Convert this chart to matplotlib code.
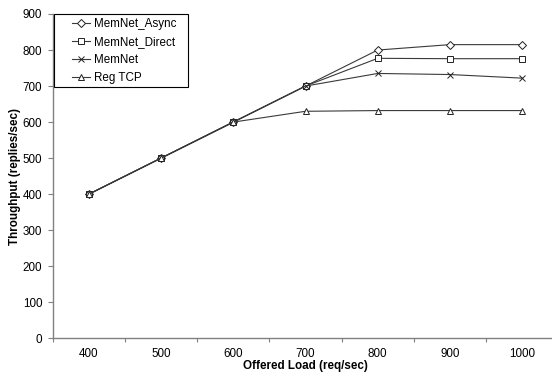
import matplotlib
matplotlib.use('Agg')
import matplotlib.pyplot as plt
from matplotlib.patches import Rectangle
import numpy as np

plt.rcParams['font.family'] = ['Liberation Sans', 'DejaVu Sans']

# Data
loads = ['400', '500', '600', '700', '800', '900', '1000']
memnetAsync = [400, 500, 600, 700, 800, 815, 815]
memnetDirect = [400, 500, 600, 700, 777, 776, 776]
memnet = [400, 500, 600, 700, 735, 732, 722]
regTCP = [400, 500, 600, 630, 632, 632, 632]

series = [
    ('MemNet_Async', memnetAsync, 'D', 4.0),
    ('MemNet_Direct', memnetDirect, 's', 5.0),
    ('MemNet', memnet, 'x', 4.5),
    ('Reg TCP', regTCP, '^', 5.0),
]

fig = plt.figure(figsize=(5.52, 3.73), dpi=100)
ax = fig.add_axes([52.7 / 552, (373 - 338.3) / 373, 505.6 / 552, 324.3 / 373])

xpos = np.arange(len(loads))
for name, vals, mk, ms in series:
    ax.plot(xpos, vals, color='#3a3a3a', lw=0.8, marker=mk, markersize=ms,
            markerfacecolor='white', markeredgecolor='#222222', markeredgewidth=0.7,
            label=name)

ax.set_xlim(-0.5, len(loads) - 0.5)
ax.set_ylim(0, 900)
ax.set_yticks(range(0, 901, 100))
ax.set_xticks(xpos)
ax.set_xticklabels(loads)
ax.set_xticks(np.arange(-0.5, len(loads), 1.0), minor=True)
ax.tick_params(axis='x', which='major', length=0, pad=7, labelsize=8.4)
ax.tick_params(axis='x', which='minor', length=3, width=0.8, color='#808080', direction='out')
ax.tick_params(axis='y', length=3.5, width=0.8, color='#808080', pad=4, labelsize=8.4)

for s in ['top', 'right']:
    ax.spines[s].set_visible(False)
for s in ['left', 'bottom']:
    ax.spines[s].set_color('#808080')
    ax.spines[s].set_linewidth(1.0)

ax.set_xlabel('Offered Load (req/sec)', fontsize=8.4, fontweight='bold', labelpad=0)
ax.set_ylabel('Throughput (replies/sec)', fontsize=8.4, fontweight='bold', labelpad=1)

leg = ax.legend(loc='upper left', bbox_to_anchor=(68 / 552, 1 - 14 / 373),
                bbox_transform=fig.transFigure, frameon=False, fontsize=8.4,
                handlelength=1.5, handletextpad=0.4, labelspacing=0.52,
                borderpad=0.35, borderaxespad=0)

fig.patches.append(Rectangle((54 / 552, 1 - 87 / 373), 134 / 552, 73 / 373,
                             transform=fig.transFigure, fill=False,
                             edgecolor='black', lw=0.8))

fig.savefig('out.png', dpi=100)
